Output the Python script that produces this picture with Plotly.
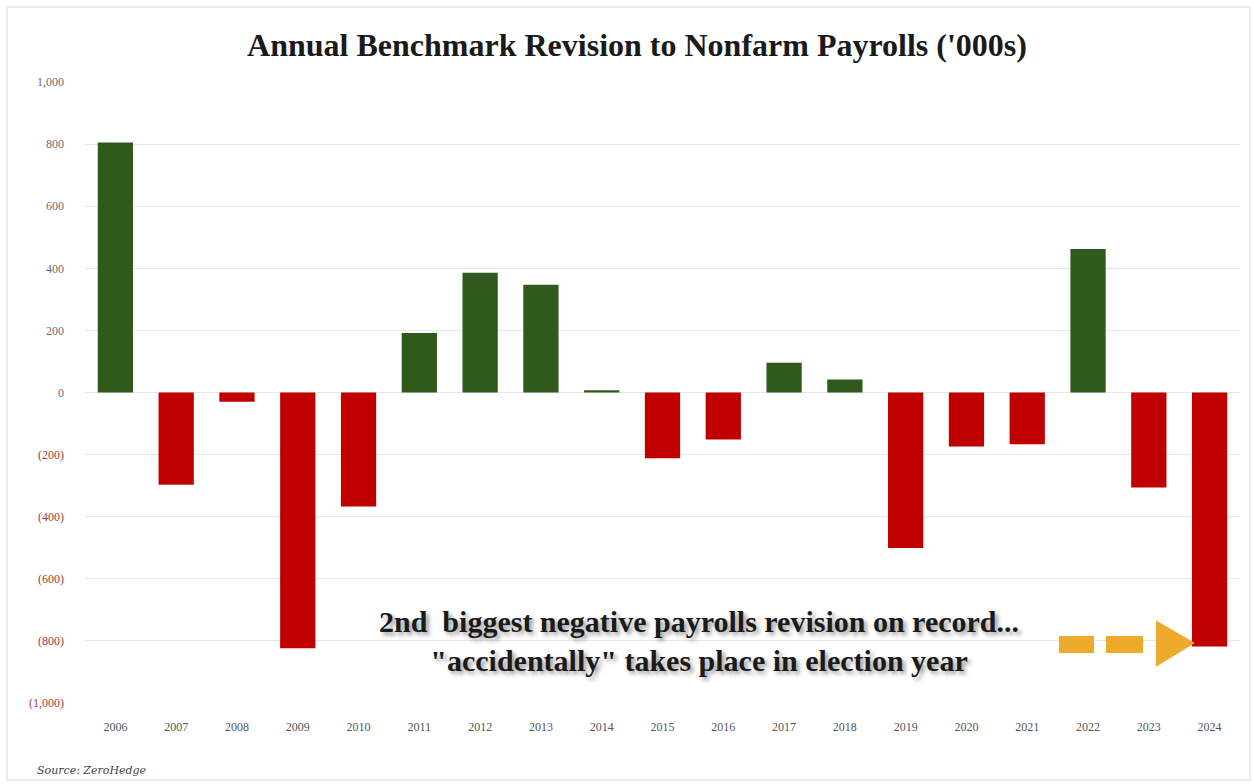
import plotly.graph_objects as go

years = ["2006", "2007", "2008", "2009", "2010", "2011", "2012", "2013", "2014", "2015",
         "2016", "2017", "2018", "2019", "2020", "2021", "2022", "2023", "2024"]
revisions = [805, -297, -30, -824, -367, 192, 386, 347, 7, -212,
             -151, 96, 42, -501, -174, -167, 462, -306, -818]
tick_vals = [1000, 800, 600, 400, 200, 0, -200, -400, -600, -800, -1000]
tick_text = ["1,000", "800", "600", "400", "200", "0",
             "(200)", "(400)", "(600)", "(800)", "(1,000)"]

GREEN = "#2f5a1c"
RED = "#c00000"
ORANGE = "#eeaa2a"
colors = [GREEN if v >= 0 else RED for v in revisions]

ticktext_colored = [
    (f'<span style="color:#a83a3a">{t}</span>' if v < 0 else t)
    for v, t in zip(tick_vals, tick_text)
]

fig = go.Figure()
fig.add_trace(go.Bar(x=years, y=revisions, marker=dict(color=colors, line=dict(width=0)),
                     width=0.58, hoverinfo="skip"))

fig.update_layout(
    width=1254, height=784,
    margin=dict(l=85, r=14, t=82, b=81),
    paper_bgcolor="white", plot_bgcolor="white",
    showlegend=False,
    title=dict(text="<b>Annual Benchmark Revision to Nonfarm Payrolls ('000s)</b>",
               x=0.508, xanchor="center", y=0.943, yanchor="middle",
               font=dict(family="Liberation Serif, serif", size=32, color="#1a1a1a")),
    font=dict(family="Liberation Serif, serif"),
)
fig.update_yaxes(range=[-1000, 1000], tickvals=tick_vals, ticktext=ticktext_colored,
                 showgrid=True, gridcolor="#e6e6e6", gridwidth=1, zeroline=False,
                 ticks="", tickfont=dict(size=12, color="#6e6e6e"), ticklabelstandoff=20)
fig.update_xaxes(showgrid=False, ticks="", tickfont=dict(size=12, color="#555555"),
                 showline=False, ticklabelstandoff=15)

fig.add_annotation(
    x=0.532, y=0.1, xref="paper", yref="paper", xanchor="center", yanchor="middle",
    text="2nd  biggest negative payrolls revision on record...<br>\"accidentally\" takes place in election year",
    showarrow=False,
    font=dict(family="Liberation Serif, serif", size=30, color="#1a1a1a",
              weight="bold", shadow="3px 3px 4px #9a9a9a"),
    align="center",
)
# dashed orange arrow
for xa, xb in [(0.8442, 0.8727), (0.8848, 0.9152)]:
    fig.add_shape(type="rect", xref="paper", yref="paper",
                  x0=xa, x1=xb, y0=0.0821, y1=0.1063,
                  fillcolor=ORANGE, line=dict(color=ORANGE, width=2))
fig.add_shape(type="path", xref="paper", yref="paper",
              path="M 0.9281 0.1304 L 0.9593 0.0966 L 0.9281 0.0612 Z",
              fillcolor=ORANGE, line=dict(color=ORANGE, width=2))

fig.add_annotation(x=-0.043, y=-0.108, xref="paper", yref="paper", xanchor="left", yanchor="middle",
                   text="<i>Source: ZeroHedge</i>", showarrow=False,
                   font=dict(family="DejaVu Serif, serif", size=11, color="#444444"))
# faint frame
fig.add_shape(type="rect", xref="paper", yref="paper", x0=-0.0675, x1=1.0087, y0=-0.124, y1=1.1208,
              line=dict(color="#ebebeb", width=2))

fig.write_html("out.html", config={"displayModeBar": False},
               post_script="document.body.style.margin='0';")
